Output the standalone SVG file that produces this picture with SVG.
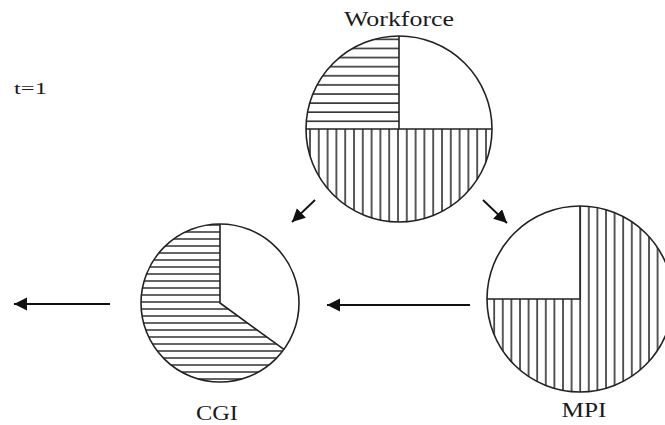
<svg xmlns="http://www.w3.org/2000/svg" width="665" height="425" viewBox="0 0 665 425">
  <style>
    .lbl { font-family: "Liberation Serif", "DejaVu Serif", serif; fill: #1a1a1a; }
    .outline { fill: none; stroke: #222; stroke-width: 1.6; }
    .div { stroke: #222; stroke-width: 1.6; fill: none; }
    .conn { stroke: #111; stroke-width: 1.8; fill: none; marker-end: url(#ah); }
  </style>
  <defs>
    <marker id="ah" markerUnits="userSpaceOnUse" markerWidth="14" markerHeight="14" refX="13" refY="6.5" orient="auto">
      <path d="M0,0 L13,6.5 L0,13 Z" fill="#111"/>
    </marker>
    <pattern id="hWF" patternUnits="userSpaceOnUse" x="0" y="2" width="10" height="9.1">
      <line x1="0" y1="1" x2="10" y2="1" stroke="#222" stroke-width="1.5"/>
    </pattern>
    <pattern id="vWF" patternUnits="userSpaceOnUse" x="1" y="0" width="8.8" height="10">
      <line x1="1" y1="0" x2="1" y2="10" stroke="#222" stroke-width="1.5"/>
    </pattern>
    <pattern id="hCGI" patternUnits="userSpaceOnUse" x="0" y="0" width="10" height="7">
      <line x1="0" y1="1" x2="10" y2="1" stroke="#222" stroke-width="1.4"/>
    </pattern>
    <pattern id="vMPI" patternUnits="userSpaceOnUse" x="3" y="0" width="8.6" height="10">
      <line x1="1" y1="0" x2="1" y2="10" stroke="#222" stroke-width="1.5"/>
    </pattern>
  </defs>

  <rect width="665" height="425" fill="#fff"/>

  <text class="lbl" x="14" y="94" font-size="17" textLength="33" lengthAdjust="spacingAndGlyphs">t=1</text>

  <g id="workforce">
    <path d="M399,129 L306,129 A93,93 0 0 1 399,36 Z" fill="url(#hWF)"/>
    <path d="M306,129 A93,93 0 0 0 492,129 Z" fill="url(#vWF)"/>
    <line class="div" x1="399" y1="36" x2="399" y2="129"/>
    <line class="div" x1="306" y1="129" x2="492" y2="129"/>
    <circle class="outline" cx="399" cy="129" r="93"/>
    <text class="lbl" x="399" y="26" font-size="22" text-anchor="middle" textLength="110" lengthAdjust="spacingAndGlyphs">Workforce</text>
  </g>

  <g id="cgi">
    <path d="M220,303 L220,224 A79,79 0 1 0 283.9,349.4 Z" fill="url(#hCGI)"/>
    <path class="div" d="M220,224 L220,303 L283.9,349.4"/>
    <circle class="outline" cx="220" cy="303" r="79"/>
    <text class="lbl" x="217" y="420" font-size="20" text-anchor="middle" textLength="42" lengthAdjust="spacingAndGlyphs">CGI</text>
  </g>

  <g id="mpi">
    <path d="M580,299 L487,299 A93,93 0 1 0 580,206 Z" fill="url(#vMPI)"/>
    <path class="div" d="M580,206 L580,299 L487,299"/>
    <circle class="outline" cx="580" cy="299" r="93"/>
    <text class="lbl" x="584" y="417" font-size="20" text-anchor="middle" textLength="45" lengthAdjust="spacingAndGlyphs">MPI</text>
  </g>

  <g id="connectors">
    <line class="conn" x1="110" y1="304" x2="14" y2="304"/>
    <line class="conn" x1="470" y1="305" x2="327" y2="305"/>
    <line class="conn" x1="315" y1="200" x2="292" y2="222"/>
    <line class="conn" x1="483" y1="200" x2="507" y2="223"/>
  </g>
</svg>
